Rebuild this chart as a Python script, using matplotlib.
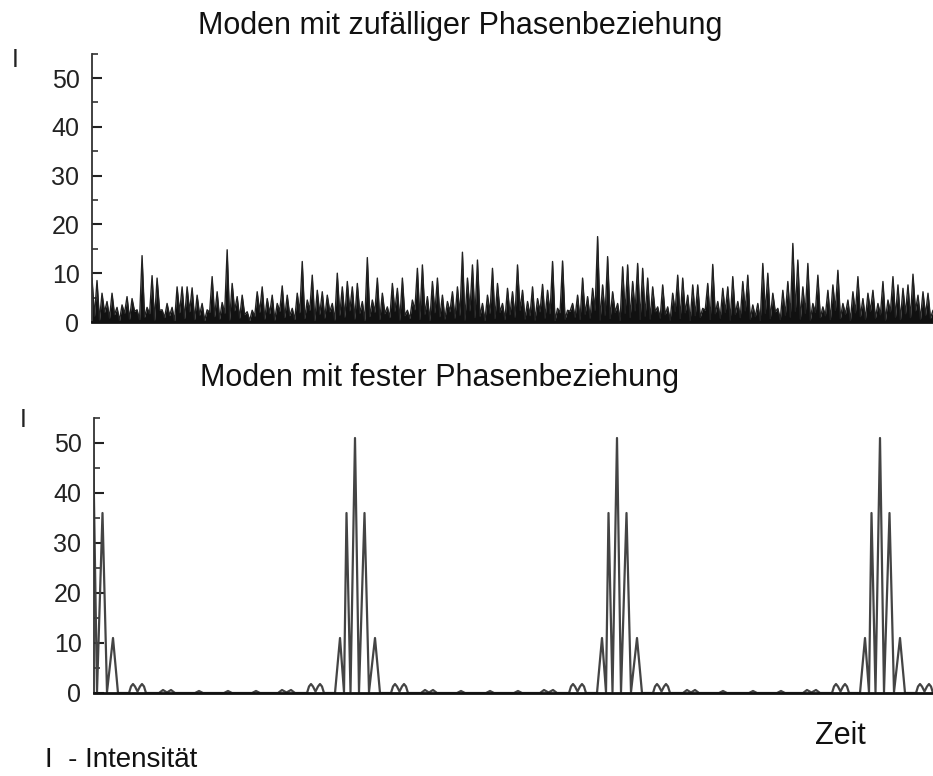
import matplotlib
matplotlib.use("Agg")
import matplotlib.pyplot as plt
import numpy as np
from matplotlib.ticker import MultipleLocator

plt.rcParams['font.family'] = ['Liberation Sans', 'DejaVu Sans']

# ---------------- data ----------------
# upper panel: random phase relation (spike heights and troughs)
random_peaks = [
    9.0, 8.5, 5.9, 4.2, 5.9, 3.0, 3.5, 5.2, 4.8, 2.5, 13.6, 3.0, 9.5, 9.0, 2.5,
    3.8, 3.0, 7.2, 7.2, 7.2, 7.0, 5.5, 3.8, 2.5, 9.3, 6.2, 4.0, 14.8, 7.9, 5.2,
    5.5, 2.1, 2.4, 6.2, 7.2, 4.8, 5.5, 3.8, 7.4, 5.5, 2.8, 5.9, 12.4, 4.5, 9.6,
    6.5, 6.2, 5.5, 3.8, 10.0, 7.2, 8.3, 7.2, 7.9, 4.2, 13.2, 4.5, 9.0,
    5.9, 3.1, 7.9, 6.9, 9.0, 2.4, 4.5, 11.0, 11.7, 5.2, 8.3, 9.0, 5.5, 4.2, 6.2,
    7.2, 14.3, 9.0, 11.7, 12.7, 3.8, 5.5, 11.0, 7.9, 3.8, 6.9, 6.2, 11.7, 6.5,
    4.2, 7.2, 4.8, 7.7, 6.5, 12.4, 2.8, 12.5, 2.4, 3.8, 5.5, 9.0, 5.2, 6.9, 17.5,
    7.6, 13.4, 6.2, 3.8, 11.3, 11.7, 8.3, 12.0, 11.0, 9.0, 7.2,
    3.1, 7.6, 3.1, 5.9, 9.6, 9.0, 5.5, 7.6, 7.6, 2.8, 7.9, 11.8, 4.2, 6.9, 7.2,
    9.3, 4.2, 8.3, 9.6, 3.5, 3.8, 12.0, 10.0, 5.9, 2.8, 6.5, 8.3, 16.1,
    12.7, 7.2, 12.0, 3.8, 9.6, 3.1, 6.5, 7.6, 10.6, 3.8, 4.5, 6.2, 9.3, 4.8, 5.9,
    6.5, 3.8, 8.3, 4.5, 9.3, 7.6, 6.9, 7.6, 9.8, 5.5, 6.2, 5.9, 2.4,
]
random_troughs = [
    1.2, 0.4, 2.0, 0.8, 1.5, 0.3, 1.8, 0.6, 2.2, 0.5, 1.0, 1.7, 0.4, 2.4, 0.9,
    1.3, 0.2, 1.9, 0.7, 2.1, 0.5, 1.4, 0.3, 2.0, 1.1, 0.6, 1.8, 0.4, 2.3, 0.8,
    1.5, 0.3, 1.2, 2.0, 0.6, 1.7, 0.4, 2.2, 0.9, 1.3, 0.5, 1.9, 0.7, 2.4, 0.3,
    1.6, 0.8, 2.1, 0.4, 1.4, 1.0, 2.3, 0.6, 1.8, 0.3, 1.1, 2.0, 0.5,
    1.7, 0.9, 2.2, 0.4, 1.3, 0.7, 2.5, 0.5, 1.6, 0.3, 1.9, 1.1, 0.6, 2.1, 0.8,
    1.4, 0.4, 2.3, 0.9, 1.2, 0.3, 1.8, 0.7, 2.0, 0.5, 1.5, 1.0, 2.4, 0.6,
    1.3, 0.4, 2.1, 0.8, 1.7, 0.3, 1.9, 0.6, 2.2, 1.0, 0.5, 1.6, 0.8, 2.4, 0.4,
    1.4, 0.7, 2.0, 0.3, 1.8, 0.9, 2.3, 0.5, 1.2, 0.6, 2.1,
    0.8, 1.5, 0.4, 2.2, 0.7, 1.9, 0.3, 1.3, 1.0, 2.4, 0.5, 1.7, 0.8, 2.0, 0.4,
    1.6, 0.9, 2.3, 0.6, 1.1, 0.3, 1.8, 0.7, 2.1, 0.5, 1.4, 1.0, 2.2,
    0.6, 1.8, 0.4, 2.0, 0.9, 1.3, 0.5, 2.4, 0.7, 1.6, 0.3, 1.9, 1.1, 0.6, 2.2,
    0.8, 1.5, 0.4, 2.1, 1.0, 0.5, 1.7, 0.9, 2.3, 0.6, 1.4, 0.8, 1.2,
]

# lower panel: fixed phase relation (one pulse profile, offsets in time units)
pulse_offsets = [-131, -127, -123, -103, -99, -95, -77, -73, -68.5, -64, -60,
                 -48, -46, -44, -42, -39.5, -37, -35, -33, -31,
                 -20, -15, -11, -8.5, -4.5, 0, 4, 9.5, 14, 20, 25,
                 36, 38, 40, 42, 44.5, 47, 49, 51, 53,
                 66, 70, 74, 78, 82, 102, 106, 110, 131]
pulse_values = [0, 0.4, 0, 0, 0.4, 0, 0, 0.6, 0.1, 0.6, 0,
                0, 1.3, 1.8, 1.3, 0.3, 1.3, 1.8, 1.3, 0,
                0, 11, 0.2, 36, 0.2, 51, 0.2, 36, 0.2, 11, 0,
                0, 1.3, 1.8, 1.3, 0.3, 1.3, 1.8, 1.3, 0,
                0, 0.6, 0.1, 0.6, 0, 0, 0.4, 0, 0]
pulse_centers = [1, 263, 525, 788]

yticks = [0, 10, 20, 30, 40, 50]
title_top = "Moden mit zufälliger Phasenbeziehung"
title_bottom = "Moden mit fester Phasenbeziehung"

# ---------------- figure ----------------
W, H = 933, 776
fig = plt.figure(figsize=(W / 100, H / 100), dpi=100)
fig.patch.set_facecolor("white")


def style_axis(ax):
    for s in ("top", "right"):
        ax.spines[s].set_visible(False)
    ax.spines["left"].set_linewidth(1.3)
    ax.spines["left"].set_color("#333333")
    ax.spines["bottom"].set_linewidth(2.0)
    ax.spines["bottom"].set_color("#111111")
    ax.set_ylim(0, 55)
    ax.set_yticks(yticks)
    ax.yaxis.set_minor_locator(MultipleLocator(5))
    ax.tick_params(axis="y", which="major", direction="in", length=7, width=1.5,
                   colors="#222222", labelsize=18, pad=9)
    ax.tick_params(axis="y", which="minor", direction="in", length=4.5, width=1.2,
                   colors="#333333")
    ax.set_xticks([])
    ax.tick_params(axis="x", which="both", length=0)
    ax.set_facecolor("none")


# upper panel
ax1 = fig.add_axes([92 / W, 454 / H, 1 - 92 / W, 268.4 / H])
style_axis(ax1)
n = len(random_peaks)
t_peaks = np.linspace(0, 841, n)
t_all = np.empty(2 * n)
y_all = np.empty(2 * n)
t_all[0::2] = t_peaks
y_all[0::2] = random_peaks
t_all[1::2] = t_peaks + (841 / (n - 1)) / 2
y_all[1::2] = random_troughs
ax1.fill_between(t_all, 0, y_all, color="#111111", lw=0)
ax1.plot(t_all, y_all, color="#222222", lw=1.0)
ax1.set_xlim(0, 841)

# lower panel
ax2 = fig.add_axes([94 / W, 83 / H, 1 - 94 / W, 275 / H])
style_axis(ax2)
offs = np.array(pulse_offsets, dtype=float)
vals = np.array(pulse_values, dtype=float)
t_pulse = np.concatenate([c + offs for c in pulse_centers])
y_pulse = np.concatenate([vals for _ in pulse_centers])
ax2.plot(t_pulse, y_pulse, color="#444444", lw=1.6)
ax2.set_xlim(2, 841)

# texts
fig.text(460 / W, 1 - 26 / H, title_top, ha="center", va="center", fontsize=22, color="#111111")
fig.text(440 / W, 1 - 378 / H, title_bottom, ha="center", va="center", fontsize=22, color="#111111")
fig.text(15 / W, 1 - 60 / H, "I", ha="center", va="center", fontsize=18, color="#222222")
fig.text(23 / W, 1 - 420 / H, "I", ha="center", va="center", fontsize=18, color="#222222")
fig.text(840 / W, 1 - 736 / H, "Zeit", ha="center", va="center", fontsize=22, color="#111111")
fig.text(45 / W, 1 - 760 / H, "I  - Intensität", ha="left", va="center", fontsize=20,
         color="#111111")

fig.savefig("out.png", dpi=100)
